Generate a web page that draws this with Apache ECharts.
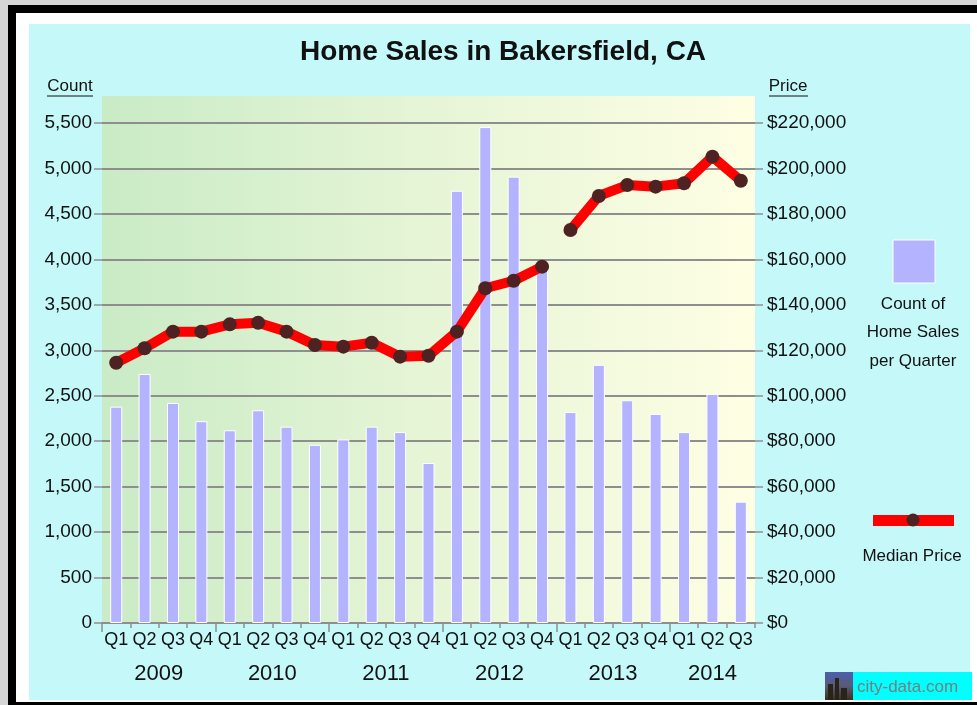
<!DOCTYPE html>
<html>
<head>
<meta charset="utf-8">
<script src="https://cdn.jsdelivr.net/npm/echarts@6/dist/echarts.min.js"></script>
<style>
  html, body { margin: 0; padding: 0; width: 977px; height: 705px; overflow: hidden; background: #d6d6d6; }
  .abs { position: absolute; }
  #black { left: 8px; top: 5px; width: 969px; height: 700px; background: #000; }
  #white { left: 16px; top: 13px; width: 961px; height: 689px; background: #fff; }
  #cyan { left: 29px; top: 24px; width: 941px; height: 676px; background: #c5f9f9; }
  #chart { left: 0; top: 0; width: 977px; height: 705px; }
</style>
</head>
<body>
<div id="black" class="abs"></div>
<div id="white" class="abs"></div>
<div id="cyan" class="abs"></div>
<div id="chart" class="abs"></div>
<script>
// ---- data ----
const quarters = ['Q1','Q2','Q3','Q4','Q1','Q2','Q3','Q4','Q1','Q2','Q3','Q4',
                  'Q1','Q2','Q3','Q4','Q1','Q2','Q3','Q4','Q1','Q2','Q3'];
const years = ['2009','2010','2011','2012','2013','2014'];
const quartersPerYear = [4, 4, 4, 4, 4, 3];
const salesCount = [2380, 2740, 2420, 2220, 2120, 2340, 2160, 1960, 2020, 2160, 2100, 1760,
                    4755, 5455, 4910, 3930, 2320, 2840, 2450, 2300, 2100, 2520, 1335];
const medianPrice = [114500, 120900, 128200, 128200, 131400, 132100, 128200, 122300, 121600, 123300, 117200, 117600,
                     128200, 147300, 150600, 156800, 172900, 187900, 192700, 192000, 193500, 205200, 194600];
const priceBreakAfter = 15; // line is interrupted between 2012 Q4 and 2013 Q1
const countTicks = { min: 0, max: 5500, interval: 500 };
const priceTicks = { min: 0, max: 220000, interval: 20000 };

// ---- derived ----
const yearStarts = [];
const yearCenters = [];
let acc = 0;
quartersPerYear.forEach(n => { yearStarts.push(acc); yearCenters.push(acc + n / 2); acc += n; });
const priceA = medianPrice.map((v, i) => i <= priceBreakAfter ? v : '-');
const priceB = medianPrice.map((v, i) => i > priceBreakAfter ? v : '-');

const FONT = "'Liberation Sans', Arial, sans-serif";
const TXT = '#111111';
const GRID_COL = '#8e8e8e';

const chart = echarts.init(document.getElementById('chart'), null, { renderer: 'canvas', width: 977, height: 705 });

const lineSeries = (data) => ({
  type: 'line', yAxisIndex: 1, xAxisIndex: 0, data: data, z: 5,
  symbol: 'circle', symbolSize: 14, showSymbol: true, connectNulls: false,
  lineStyle: { color: '#ff0000', width: 10 },
  itemStyle: { color: '#4e2222' },
  emphasis: { disabled: true }, animation: false
});

const option = {
  animation: false,
  backgroundColor: 'transparent',
  textStyle: { fontFamily: FONT },
  grid: { left: 102, right: 222, top: 123, bottom: 82, containLabel: false },
  xAxis: [
    {
      type: 'category', data: quarters, position: 'bottom',
      axisLine: { show: true, lineStyle: { color: GRID_COL, width: 2 } },
      axisTick: { show: true, length: 5, lineStyle: { color: GRID_COL, width: 1.5 } },
      axisLabel: { color: TXT, fontSize: 18, margin: 8, fontFamily: FONT, interval: 0 },
      splitLine: { show: false }
    },
    {
      type: 'value', min: 0, max: quarters.length, position: 'bottom',
      axisLine: { show: false },
      axisTick: { show: true, length: 9, customValues: yearStarts, lineStyle: { color: GRID_COL, width: 1.5 } },
      axisLabel: {
        color: TXT, fontSize: 22, margin: 40, fontFamily: FONT,
        customValues: yearCenters,
        formatter: (v) => { const k = yearCenters.indexOf(v); return k >= 0 ? years[k] : ''; }
      },
      splitLine: { show: false }
    }
  ],
  yAxis: [
    {
      type: 'value', min: countTicks.min, max: countTicks.max, interval: countTicks.interval, position: 'left',
      axisLine: { show: false },
      axisTick: { show: true, length: 8, lineStyle: { color: GRID_COL, width: 1.5 } },
      axisLabel: { color: TXT, fontSize: 19, margin: 10, fontFamily: FONT,
                   formatter: (v) => v.toLocaleString('en-US') },
      splitLine: { show: true, lineStyle: { color: GRID_COL, width: 2 } }
    },
    {
      type: 'value', min: priceTicks.min, max: priceTicks.max, interval: priceTicks.interval, position: 'right',
      axisLine: { show: false },
      axisTick: { show: true, length: 8, lineStyle: { color: GRID_COL, width: 1.5 } },
      axisLabel: { color: TXT, fontSize: 19, margin: 12, fontFamily: FONT,
                   formatter: (v) => '$' + v.toLocaleString('en-US') },
      splitLine: { show: false }
    }
  ],
  series: [
    {
      type: 'bar', yAxisIndex: 0, xAxisIndex: 0, data: salesCount, barWidth: 12, z: 2,
      itemStyle: { color: '#b3b3ff', borderColor: '#ffffff', borderWidth: 1 },
      emphasis: { disabled: true }
    },
    lineSeries(priceA),
    lineSeries(priceB)
  ],
  graphic: [
    // plot background gradient
    { type: 'rect', z: -10, silent: true,
      shape: { x: 102, y: 96, width: 653, height: 527 },
      style: { fill: new echarts.graphic.LinearGradient(0, 0, 1, 0, [
        { offset: 0, color: '#c9ebc5' }, { offset: 0.5, color: '#e6f5d6' }, { offset: 1, color: '#fefee3' }]) } },
    // title
    { type: 'text', z: 10, x: 503, y: 52,
      style: { text: 'Home Sales in Bakersfield, CA', font: "bold 28px 'Liberation Sans', Arial, sans-serif",
               fill: '#111', textAlign: 'center', textVerticalAlign: 'middle' } },
    // axis titles
    { type: 'text', z: 10, x: 70, y: 86,
      style: { text: 'Count', font: "17px 'Liberation Sans', Arial, sans-serif", fill: TXT,
               textAlign: 'center', textVerticalAlign: 'middle' } },
    { type: 'line', z: 10, shape: { x1: 47, y1: 96, x2: 93, y2: 96 }, style: { stroke: TXT, lineWidth: 1 } },
    { type: 'text', z: 10, x: 788, y: 86,
      style: { text: 'Price', font: "17px 'Liberation Sans', Arial, sans-serif", fill: TXT,
               textAlign: 'center', textVerticalAlign: 'middle' } },
    { type: 'line', z: 10, shape: { x1: 769, y1: 96, x2: 808, y2: 96 }, style: { stroke: TXT, lineWidth: 1 } },
    // legend: count
    { type: 'rect', z: 10, shape: { x: 893, y: 240, width: 42, height: 43 },
      style: { fill: '#b3b3ff', stroke: '#ffffff', lineWidth: 1 } },
    { type: 'text', z: 10, x: 913, y: 304,
      style: { text: 'Count of', font: "17px 'Liberation Sans', Arial, sans-serif", fill: TXT, textAlign: 'center', textVerticalAlign: 'middle' } },
    { type: 'text', z: 10, x: 913, y: 332,
      style: { text: 'Home Sales', font: "17px 'Liberation Sans', Arial, sans-serif", fill: TXT, textAlign: 'center', textVerticalAlign: 'middle' } },
    { type: 'text', z: 10, x: 913, y: 361,
      style: { text: 'per Quarter', font: "17px 'Liberation Sans', Arial, sans-serif", fill: TXT, textAlign: 'center', textVerticalAlign: 'middle' } },
    // legend: median price
    { type: 'rect', z: 10, shape: { x: 873, y: 515, width: 81, height: 11 }, style: { fill: '#ff0000' } },
    { type: 'circle', z: 11, shape: { cx: 913, cy: 520, r: 6.5 }, style: { fill: '#4e2222' } },
    { type: 'text', z: 10, x: 912, y: 556,
      style: { text: 'Median Price', font: "17px 'Liberation Sans', Arial, sans-serif", fill: TXT, textAlign: 'center', textVerticalAlign: 'middle' } },
    // city-data logo
    { type: 'rect', z: 10, shape: { x: 825, y: 672, width: 28, height: 28 },
      style: { fill: new echarts.graphic.LinearGradient(0, 0, 0, 1, [
        { offset: 0, color: '#4a5fb0' }, { offset: 0.5, color: '#5a5a78' }, { offset: 1, color: '#3a3020' }]) } },
    { type: 'rect', z: 11, shape: { x: 828, y: 684, width: 5, height: 16 }, style: { fill: '#2a2418' } },
    { type: 'rect', z: 11, shape: { x: 835, y: 678, width: 4, height: 22 }, style: { fill: '#2a2418' } },
    { type: 'rect', z: 11, shape: { x: 841, y: 688, width: 6, height: 12 }, style: { fill: '#2a2418' } },
    { type: 'rect', z: 10, shape: { x: 853, y: 672, width: 119, height: 28 }, style: { fill: '#00ffff' } },
    { type: 'text', z: 11, x: 857, y: 687,
      style: { text: 'city-data.com', font: "17px 'Liberation Sans', Arial, sans-serif", fill: '#7c7c7c',
               textAlign: 'left', textVerticalAlign: 'middle' } }
  ]
};
chart.setOption(option);
</script>
</body>
</html>
